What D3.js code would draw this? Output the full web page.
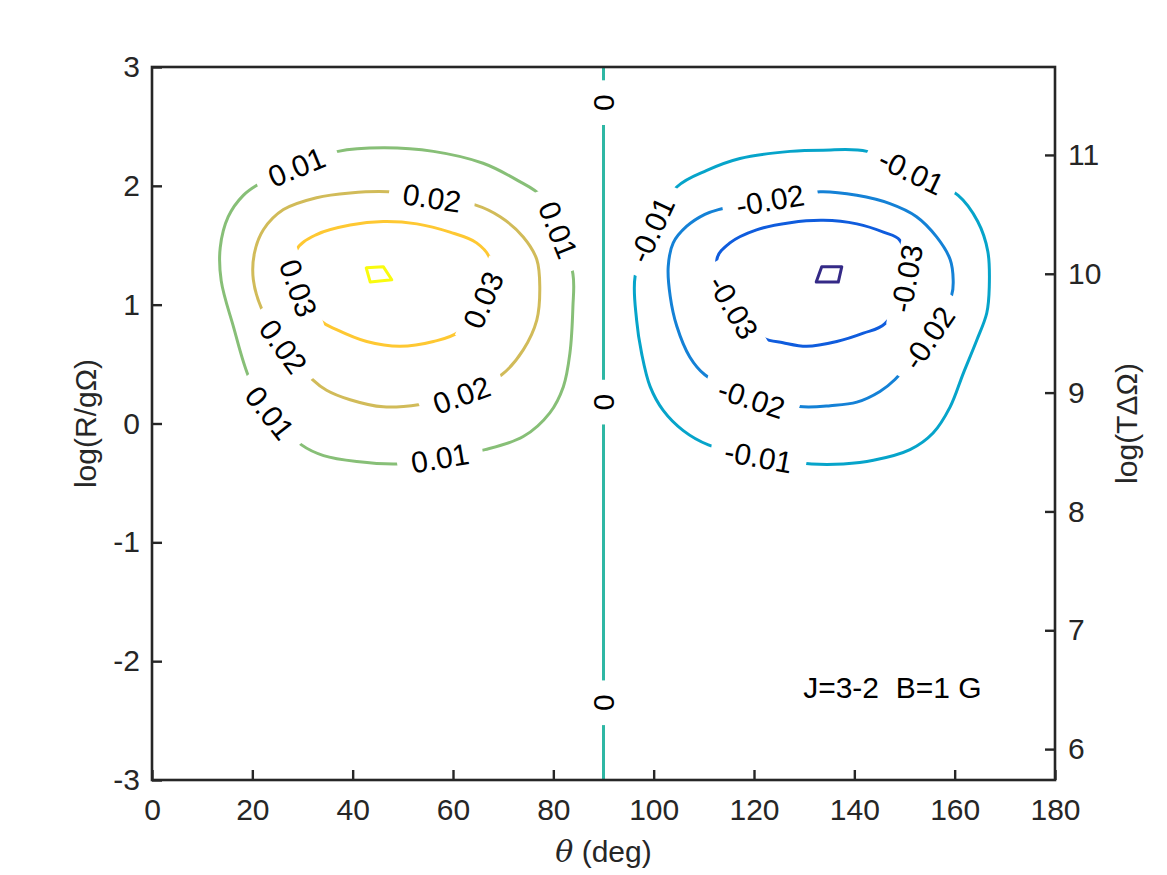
<!DOCTYPE html>
<html>
<head>
<meta charset="utf-8">
<script src="https://cdn.jsdelivr.net/npm/d3@7"></script>
<style>
  body { margin: 0; background: #fff; }
  text { font-family: "Liberation Sans", Arial, Helvetica, sans-serif; }
</style>
</head>
<body>
<svg id="chart" width="1167" height="875"></svg>
<script>
// axis ticks
const thetaTicks = [0, 20, 40, 60, 80, 100, 120, 140, 160, 180];
const logRTicks = [-3, -2, -1, 0, 1, 2, 3];
const logTTicks = [6, 7, 8, 9, 10, 11];

// contour levels and parula colours for them
const levels = [-0.04, -0.03, -0.02, -0.01, 0, 0.01, 0.02, 0.03, 0.04];
const parula9 = ['#352a87', '#0f5cdd', '#1481d6', '#06a4ca', '#2eb7a4', '#87bf77', '#d1bb59', '#fec832', '#f9fb0e'];

// contour lines: [theta (deg), log(R/gΩ)]
const cP01 = [[37.1,2.29],[46.1,2.32],[56.1,2.29],[66.0,2.19],[72.7,2.05],[77.7,1.91],[81.0,1.63],[83.9,1.26],[83.9,0.98],[83.3,0.59],[82.0,0.31],[79.3,0.09],[74.0,-0.11],[66.4,-0.22],[57.4,-0.29],[49.4,-0.34],[40.8,-0.32],[34.2,-0.27],[29.8,-0.18],[23.5,0.09],[19.5,0.37],[16.2,0.82],[13.8,1.20],[13.6,1.48],[15.2,1.74],[18.2,1.92],[21.5,2.02],[28.8,2.16]];
const cP02 = [[64.4,1.84],[69.4,1.74],[74.0,1.57],[76.7,1.38],[77.3,1.15],[76.7,0.87],[74.0,0.62],[69.7,0.41],[61.7,0.24],[53.4,0.16],[46.1,0.14],[39.5,0.20],[34.8,0.28],[32.0,0.37],[26.2,0.65],[21.9,0.96],[20.2,1.21],[20.4,1.43],[22.2,1.63],[26.2,1.80],[32.8,1.90],[39.5,1.94],[47.1,1.95],[55.8,1.90]];
const cP03 = [[28.8,1.46],[32.8,1.59],[39.5,1.67],[46.1,1.70],[52.8,1.68],[59.4,1.61],[64.7,1.52],[67.4,1.38],[66.0,1.04],[61.1,0.77],[56.1,0.69],[49.4,0.65],[42.8,0.69],[36.8,0.79],[33.8,0.86],[29.2,1.14]];
const cP04 = [[42.7,1.31],[46.1,1.32],[47.8,1.21],[43.5,1.19]];
const cZero = [[90,-3],[90,3]];
const cM01 = [[104.6,1.99],[110.6,2.13],[117.2,2.23],[127.2,2.29],[133.8,2.30],[142.5,2.29],[151.4,2.12],[160.7,1.92],[164.6,1.70],[166.6,1.45],[166.9,1.15],[166.4,0.93],[164.4,0.70],[161.7,0.42],[159.1,0.14],[155.7,-0.08],[151.1,-0.22],[143.8,-0.31],[137.8,-0.34],[131.5,-0.34],[120.9,-0.28],[110.9,-0.18],[105.9,-0.06],[101.9,0.11],[99.3,0.31],[97.6,0.59],[96.6,0.87],[96.3,1.24],[99.6,1.63]];
const cM02 = [[133.2,1.95],[140.5,1.92],[147.1,1.85],[152.4,1.74],[156.4,1.57],[159.1,1.38],[159.7,1.21],[159.4,1.08],[154.8,0.72],[148.1,0.37],[145.1,0.27],[140.5,0.18],[135.2,0.15],[129.8,0.14],[119.5,0.21],[110.2,0.41],[107.2,0.56],[104.6,0.82],[103.3,1.07],[102.9,1.32],[103.9,1.52],[106.6,1.66],[110.2,1.76],[112.9,1.80],[123.2,1.88]];
const cM03 = [[112.6,1.38],[115.2,1.52],[120.5,1.63],[127.2,1.69],[133.8,1.71],[140.5,1.68],[145.8,1.61],[149.1,1.54],[150.4,1.22],[146.1,0.84],[141.8,0.76],[136.5,0.69],[130.5,0.65],[125.8,0.68],[121.9,0.72],[115.9,0.98]];
const cM04 = [[133.5,1.32],[137.5,1.32],[136.8,1.19],[132.4,1.19]];

// inline label spots on each line
const lP01 = [[28.8,2.16],[81.0,1.63],[57.4,-0.29],[23.5,0.09]];
const lP02 = [[55.8,1.90],[61.7,0.24],[26.2,0.65]];
const lP03 = [[66.0,1.04],[29.2,1.14]];
const lZero = [[90,2.70],[90,0.18],[90,-2.35]];
const lM01 = [[151.4,2.12],[120.9,-0.28],[99.6,1.63]];
const lM02 = [[123.2,1.88],[154.8,0.72],[119.5,0.21]];
const lM03 = [[150.4,1.22],[115.9,0.98]];

const contourSet = [
  { level: 0.01, pts: cP01, labels: lP01, closed: true, smooth: true },
  { level: 0.02, pts: cP02, labels: lP02, closed: true, smooth: true },
  { level: 0.03, pts: cP03, labels: lP03, closed: true, smooth: true },
  { level: 0.04, pts: cP04, labels: [], closed: true, smooth: false },
  { level: 0, pts: cZero, labels: lZero, closed: false, smooth: false },
  { level: -0.01, pts: cM01, labels: lM01, closed: true, smooth: true },
  { level: -0.02, pts: cM02, labels: lM02, closed: true, smooth: true },
  { level: -0.03, pts: cM03, labels: lM03, closed: true, smooth: true },
  { level: -0.04, pts: cM04, labels: [], closed: true, smooth: false }
];

const svg = d3.select('#chart');
const mLeft = 152, mRight = 1055, mTop = 67, mBottom = 780;
const axisColor = '#262626';
const fontSize = 30;

const x = d3.scaleLinear().domain([0, 180]).range([mLeft, mRight]);
const y = d3.scaleLinear().domain([-3, 3]).range([mBottom, mTop]);
const y2 = d3.scaleLinear().domain([5.74, 11.74]).range([mBottom, mTop]);
const color = d3.scaleOrdinal().domain(levels).range(parula9);

const gLines = svg.append('g');
const gLabels = svg.append('g');

contourSet.forEach(c => {
  const curve = c.smooth ? d3.curveCatmullRomClosed.alpha(0.5)
    : (c.closed ? d3.curveLinearClosed : d3.curveLinear);
  const line = d3.line().x(d => x(d[0])).y(d => y(d[1])).curve(curve);
  gLines.append('path')
    .attr('d', line(c.pts))
    .attr('fill', 'none')
    .attr('stroke', color(c.level))
    .attr('stroke-width', 3)
    .attr('stroke-linejoin', 'round');

  c.labels.forEach(lp => {
    // direction of the line near the label
    let best = 0, bd = Infinity;
    c.pts.forEach((p, i) => {
      const d = Math.hypot(x(p[0]) - x(lp[0]), y(p[1]) - y(lp[1]));
      if (d < bd) { bd = d; best = i; }
    });
    const n = c.pts.length;
    let a, b;
    if (c.closed) { a = c.pts[(best - 1 + n) % n]; b = c.pts[(best + 1) % n]; }
    else { a = c.pts[0]; b = c.pts[n - 1]; }
    let ang = Math.atan2(y(b[1]) - y(a[1]), x(b[0]) - x(a[0])) * 180 / Math.PI;
    if (ang > 90) ang -= 180;
    if (ang < -90) ang += 180;

    const g = gLabels.append('g')
      .attr('transform', `translate(${x(lp[0])},${y(lp[1])}) rotate(${ang})`);
    const rect = g.append('rect').attr('fill', '#fff');
    const t = g.append('text')
      .attr('text-anchor', 'middle')
      .attr('dy', '0.36em')
      .attr('font-size', fontSize)
      .attr('fill', '#000')
      .text(c.level === 0 ? '0' : String(c.level));
    const w = t.node().getComputedTextLength() + 28;
    const h = fontSize * 0.8;
    rect.attr('x', -w / 2).attr('y', -h / 2).attr('width', w).attr('height', h);
  });
});

// axes
const styleAxis = g => {
  g.select('.domain').remove();
  g.selectAll('.tick line').attr('stroke', axisColor).attr('stroke-width', 2.4);
  g.selectAll('.tick text')
    .attr('fill', axisColor)
    .attr('font-size', fontSize)
    .attr('font-family', '"Liberation Sans", Arial, Helvetica, sans-serif');
};
const fmt = d => String(d);

svg.append('g')
  .attr('transform', `translate(0,${mBottom})`)
  .call(d3.axisBottom(x).tickValues(thetaTicks).tickFormat(fmt).tickSize(-10).tickSizeOuter(0).tickPadding(19))
  .call(styleAxis);

svg.append('g')
  .attr('transform', `translate(${mLeft},0)`)
  .call(d3.axisLeft(y).tickValues(logRTicks).tickFormat(fmt).tickSize(-10).tickSizeOuter(0).tickPadding(12))
  .call(styleAxis);

svg.append('g')
  .attr('transform', `translate(${mRight},0)`)
  .call(d3.axisRight(y2).tickValues(logTTicks).tickFormat(fmt).tickSize(-10).tickSizeOuter(0).tickPadding(13))
  .call(styleAxis);

svg.append('rect')
  .attr('x', mLeft).attr('y', mTop)
  .attr('width', mRight - mLeft).attr('height', mBottom - mTop)
  .attr('fill', 'none')
  .attr('stroke', axisColor)
  .attr('stroke-width', 2.6);

// axis titles
const xt = svg.append('text')
  .attr('x', (mLeft + mRight) / 2)
  .attr('y', 862)
  .attr('text-anchor', 'middle')
  .attr('font-size', fontSize)
  .attr('fill', axisColor);
xt.append('tspan').attr('font-style', 'italic').attr('font-family', '"DejaVu Serif", "Liberation Serif", serif').text('θ');
xt.append('tspan').text(' (deg)');

svg.append('text')
  .attr('transform', `translate(96,${(mTop + mBottom) / 2}) rotate(-90)`)
  .attr('text-anchor', 'middle')
  .attr('font-size', fontSize)
  .attr('fill', axisColor)
  .text('log(R/gΩ)');

svg.append('text')
  .attr('transform', `translate(1137,${(mTop + mBottom) / 2}) rotate(-90)`)
  .attr('text-anchor', 'middle')
  .attr('font-size', fontSize)
  .attr('fill', axisColor)
  .text('log(TΔΩ)');

// annotation
svg.append('text')
  .attr('x', x(129.8))
  .attr('y', 698)
  .attr('font-size', fontSize)
  .attr('fill', '#000')
  .style('white-space', 'pre')
  .text('J=3-2  B=1 G');
</script>
</body>
</html>
